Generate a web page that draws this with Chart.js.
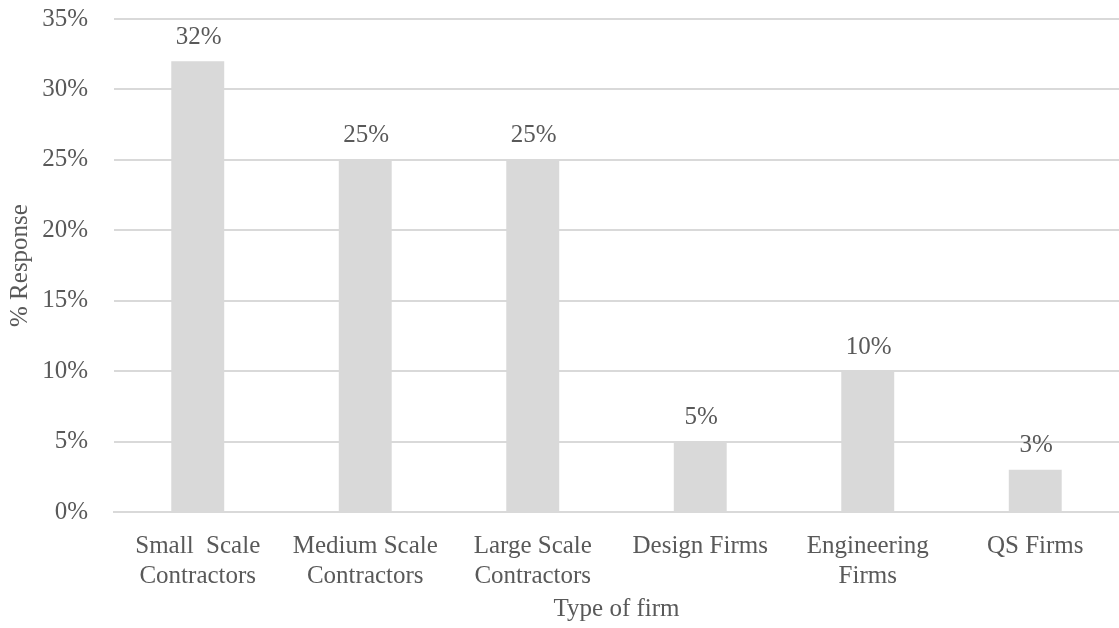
<!DOCTYPE html>
<html>
<head>
<meta charset="utf-8">
<script src="https://cdn.jsdelivr.net/npm/chart.js@4/dist/chart.umd.min.js"></script>
<style>
  html, body { margin: 0; padding: 0; background: #fff; }
  #wrap { width: 1119px; height: 628px; }
</style>
</head>
<body>
<div id="wrap"><canvas id="grafico"></canvas></div>
<script>
// ============================
// DADOS
// ============================
const categorias = [
    ["Small  Scale", "Contractors"],
    ["Medium Scale", "Contractors"],
    ["Large Scale", "Contractors"],
    "Design Firms",
    ["Engineering", "Firms"],
    "QS Firms"
];
const respostas = [32, 25, 25, 5, 10, 3];
const ticksY = [0, 5, 10, 15, 20, 25, 30, 35];

const corTexto = "#595959";
const corGrade = "#d9d9d9";
const fonte = "'Liberation Serif', 'Times New Roman', serif";

// ============================
// RÓTULOS DAS BARRAS
// ============================
const rotulosBarras = {
    id: "rotulosBarras",
    afterDatasetsDraw(chart) {
        const ctx = chart.ctx;
        const meta = chart.getDatasetMeta(0);
        ctx.save();
        ctx.font = "25px " + fonte;
        ctx.fillStyle = corTexto;
        ctx.textAlign = "center";
        ctx.textBaseline = "middle";
        meta.data.forEach((barra, i) => {
            ctx.fillText(respostas[i] + "%", barra.x + 1, barra.y - 24);
        });
        ctx.restore();
    }
};

// ============================
// GRÁFICO
// ============================
new Chart(document.getElementById("grafico"), {
    type: "bar",
    data: {
        labels: categorias,
        datasets: [{
            data: respostas,
            backgroundColor: "#d9d9d9",
            borderWidth: 0,
            barPercentage: 0.316,
            categoryPercentage: 1
        }]
    },
    options: {
        responsive: true,
        maintainAspectRatio: false,
        animation: false,
        layout: { padding: { top: 19, right: 0, left: 0, bottom: 0 } },
        plugins: {
            legend: { display: false },
            tooltip: { enabled: false }
        },
        scales: {
            x: {
                grid: { display: false, drawTicks: false },
                border: { display: true, color: corGrade, width: 2 },
                ticks: {
                    color: corTexto,
                    font: { family: fonte, size: 25, lineHeight: 1.2 },
                    padding: 19,
                    maxRotation: 0,
                    autoSkip: false
                },
                title: {
                    display: true,
                    text: "Type of firm",
                    color: corTexto,
                    font: { family: fonte, size: 25, lineHeight: 1.2 },
                    padding: { top: 0, bottom: 4 }
                },
                afterFit(escala) { escala.height = 116; }
            },
            y: {
                min: 0,
                max: 35,
                afterBuildTicks(escala) {
                    escala.ticks = ticksY.map(v => ({ value: v }));
                },
                grid: { color: corGrade, lineWidth: 2, drawTicks: false },
                border: { display: false },
                ticks: {
                    color: corTexto,
                    font: { family: fonte, size: 25 },
                    padding: 26,
                    callback: v => v + "%"
                },
                title: {
                    display: true,
                    text: "% Response",
                    color: corTexto,
                    font: { family: fonte, size: 25, lineHeight: 1.2 },
                    padding: { top: 5, bottom: 0 }
                },
                afterFit(escala) {
                    escala.width = 114;
                    escala.paddingTop = 0;
                    escala.paddingBottom = 0;
                }
            }
        }
    },
    plugins: [rotulosBarras]
});
</script>
</body>
</html>
